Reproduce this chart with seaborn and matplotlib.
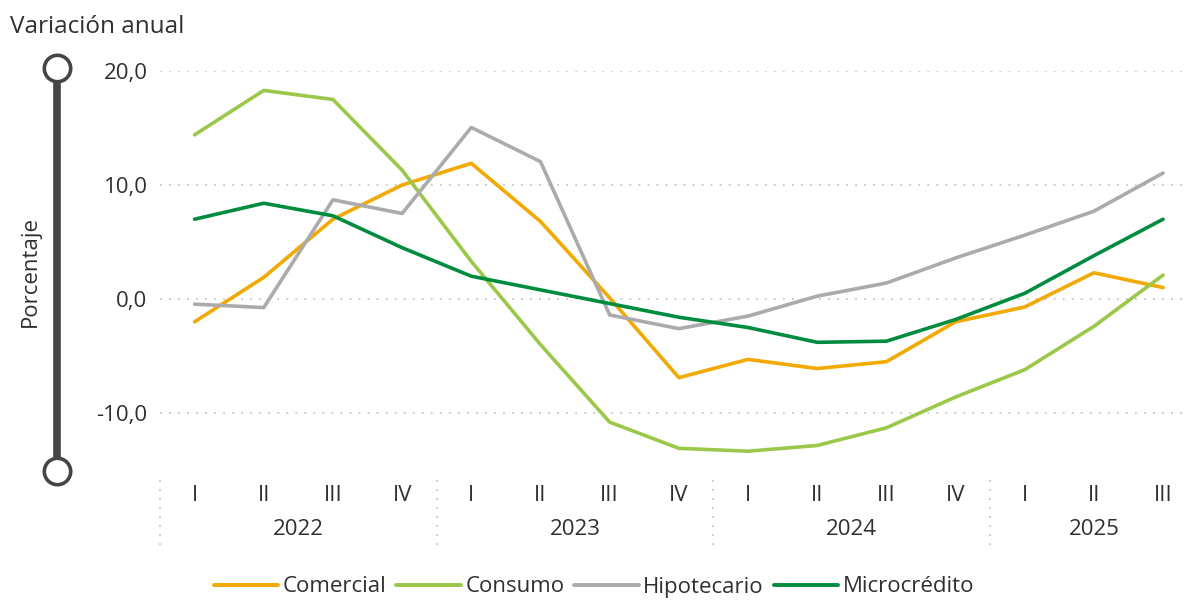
import pandas as pd
import matplotlib
matplotlib.use("Agg")
import matplotlib.pyplot as plt
from matplotlib.lines import Line2D
import seaborn as sns

# Data (annual change, %)
years = ["2022", "2023", "2024", "2025"]
quarters = ["I", "II", "III", "IV", "I", "II", "III", "IV", "I", "II", "III", "IV", "I", "II", "III"]
comercial = [-2.0, 1.9, 7.0, 10.0, 11.9, 6.8, 0.1, -6.9, -5.3, -6.1, -5.5, -2.0, -0.7, 2.3, 1.0]
consumo = [14.4, 18.3, 17.5, 11.3, 3.3, -4.0, -10.8, -13.1, -13.35, -12.85, -11.3, -8.6, -6.2, -2.4, 2.1]
hipotecario = [-0.45, -0.75, 8.7, 7.5, 15.05, 12.05, -1.4, -2.6, -1.5, 0.25, 1.4, 3.6, 5.6, 7.7, 11.05]
microcredito = [7.0, 8.4, 7.3, 4.5, 2.0, 0.8, -0.4, -1.6, -2.5, -3.8, -3.7, -1.8, 0.5, 3.8, 7.0]
yticks = [20, 10, 0, -10]
ytick_labels = ["20,0", "10,0", "0,0", "-10,0"]

series = {"Comercial": comercial, "Consumo": consumo,
          "Hipotecario": hipotecario, "Microcrédito": microcredito}
palette = {"Comercial": "#F2A900", "Consumo": "#9BC84A",
           "Hipotecario": "#ABABAB", "Microcrédito": "#008C3E"}

df = pd.concat([pd.DataFrame({"t": range(len(v)), "valor": v, "serie": k})
                for k, v in series.items()], ignore_index=True)

sns.set_theme(style="white")
plt.rcParams["font.family"] = ["Open Sans", "DejaVu Sans"]
txt = "#303030"
fs = 16

fig = plt.figure(figsize=(11.88, 6.03), dpi=100)
ax = fig.add_axes([160 / 1188, 133 / 603, 1 - 160 / 1188, 399 / 603])

for y in yticks:
    ax.axhline(y, color="#C8C8C8", lw=1.3, ls=(0, (1, 4)), zorder=0)

sns.lineplot(data=df, x="t", y="valor", hue="serie", palette=palette,
             linewidth=2.6, ax=ax, legend=False, sort=False)

ax.set_xlim(-0.5, 14.36)
ax.set_ylim(-15, 20)
for s in ax.spines.values():
    s.set_visible(False)
ax.set_xlabel("")
ax.set_ylabel("")
ax.set_yticks(yticks)
ax.set_yticklabels(ytick_labels, fontsize=fs, color=txt)
ax.tick_params(axis="y", length=0, pad=9)
ax.set_xticks(range(len(quarters)))
ax.set_xticklabels(quarters, fontsize=fs, color=txt)
ax.tick_params(axis="x", length=0, pad=11)

# year labels and separators under the axis
for i, yr in enumerate(years):
    start = i * 4 - 0.5
    end = min(start + 4, len(quarters) - 0.5)
    ax.text((start + end) / 2, -0.148, yr,
            transform=ax.get_xaxis_transform(), ha="center", va="center",
            fontsize=fs, color=txt)
    ax.plot([start, start], [-0.025, -0.2], transform=ax.get_xaxis_transform(),
            clip_on=False, color="#C8C8C8", lw=1.3, ls=(0, (1, 4)))

# slider-like axis decoration
fig.add_artist(Line2D([57 / 1188, 57 / 1188], [1 - 68 / 603, 1 - 471 / 603],
                      color="#454545", lw=5.5, solid_capstyle="butt"))
fig.add_artist(Line2D([57 / 1188, 57 / 1188], [1 - 68 / 603, 1 - 471 / 603],
                      ls="none", marker="o", markersize=19, markerfacecolor="white",
                      markeredgecolor="#454545", markeredgewidth=2.6))
fig.text(30 / 1188, 1 - 271 / 603, "Porcentaje", rotation=90, ha="center",
         va="center", fontsize=fs, color=txt)
fig.text(10 / 1188, 1 - 27 / 603, "Variación anual", ha="left", va="center",
         fontsize=17.5, color=txt)

handles = [Line2D([], [], color=palette[k], lw=2.8) for k in series]
fig.legend(handles, list(series), loc="center", bbox_to_anchor=(0.5, 16 / 603),
           ncol=4, frameon=False, fontsize=fs, handlelength=2.9,
           handletextpad=0.2, columnspacing=0.45, labelcolor=txt)

fig.savefig("out.png", dpi=100)
